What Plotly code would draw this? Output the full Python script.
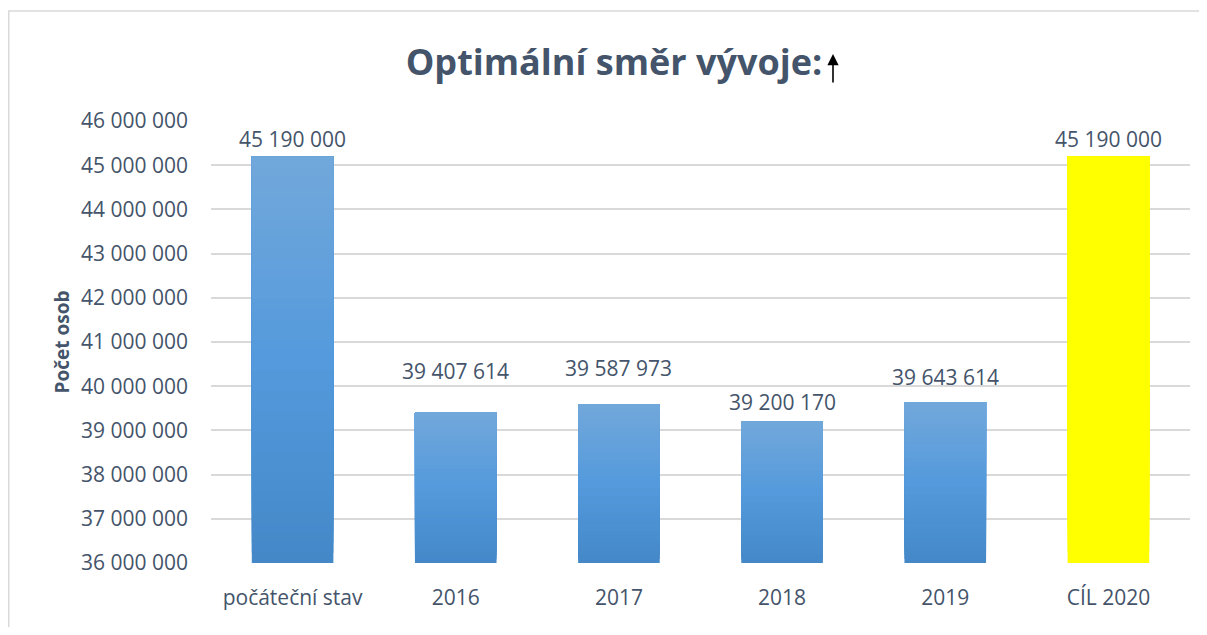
import plotly.graph_objects as go

categories = ["počáteční stav", "2016", "2017", "2018", "2019", "CÍL 2020"]
values = [45190000, 39407614, 39587973, 39200170, 39643614, 45190000]
y_ticks = list(range(36000000, 46000001, 1000000))

# styling
is_target = [False, False, False, False, False, True]
label_gap_px = [18, 41, 36, 20, 25, 18]   # Excel label offsets above bar tops
grad_stops = [(0.0, (68, 136, 200)), (0.5, (84, 154, 220)), (1.0, (114, 168, 219))]  # bottom -> top
N_BANDS = 40
Y0 = 36000000

# page has 8px body margin; figure placed at (8, 8)
W, H = 1191, 619
L, R, T, B = 203, 9, 113, 64
PW, PH = W - L - R, H - T - B


def grad_color(f):
    for (f0, c0), (f1, c1) in zip(grad_stops[:-1], grad_stops[1:]):
        if f0 <= f <= f1:
            t = (f - f0) / (f1 - f0)
            return "rgb(%d,%d,%d)" % tuple(round(a + (b - a) * t) for a, b in zip(c0, c1))
    return "rgb(%d,%d,%d)" % grad_stops[-1][1]


fig = go.Figure()
# gradient fill: layered bars, each from a band start up to the bar's value
for i in range(N_BANDS):
    f = (i + 0.5) / N_BANDS
    col = grad_color(f)
    bases = [Y0 + (v - Y0) * i / N_BANDS for v in values]
    heights = [v - b for v, b in zip(values, bases)]
    fig.add_trace(go.Bar(
        x=categories, y=heights, base=bases,
        marker=dict(color=["#FFFF00" if t else col for t in is_target], line=dict(width=0)),
        hoverinfo="skip", showlegend=False,
    ))

for idx, (v, g) in enumerate(zip(values, label_gap_px)):
    fig.add_annotation(
        x=idx, y=v, xref="x", yref="y",
        text=f"{v:,}".replace(",", " "),
        showarrow=False, yanchor="middle", yshift=g,
        font=dict(family="Open Sans", size=21, color="#44546A"),
    )

# arrow after the title
fig.add_annotation(
    x=(833 - 8 - L) / PW, y=(H - B - (54 - 8)) / PH, xref="paper", yref="paper",
    ax=0, ay=30, axref="pixel", ayref="pixel", text="",
    showarrow=True, arrowhead=2, arrowsize=1.4, arrowwidth=1.6, arrowcolor="black",
)

fig.update_layout(
    width=W, height=H,
    margin=dict(l=L, r=R, t=T, b=B),
    paper_bgcolor="white", plot_bgcolor="white",
    separators=", ",
    barmode="overlay",
    bargap=0.5,
    showlegend=False,
    title=dict(
        text="<b>Optimální směr vývoje:</b>",
        x=(614 - 8 - L) / PW, xanchor="center", xref="paper",
        y=1 - (62 - 8) / H, yanchor="middle",
        font=dict(family="Open Sans", size=36, color="#44546A"),
    ),
    font=dict(family="Open Sans", color="#44546A"),
)
fig.update_xaxes(
    type="category", categoryorder="array", categoryarray=categories,
    range=[-0.5, len(categories) - 0.5],
    showgrid=False, zeroline=False, showline=False,
    tickfont=dict(size=21, color="#44546A"),
    ticks="", ticklabelstandoff=20,
)
fig.update_yaxes(
    range=[36000000, 46000000],
    tickvals=y_ticks,
    tickformat=",d",
    showgrid=True, gridcolor="#D9D9D9", gridwidth=1.5,
    zeroline=False, showline=False,
    tickfont=dict(size=21, color="#44546A"),
    ticks="", ticklabelstandoff=22,
    title=dict(text="<b>Počet osob</b>", font=dict(size=19, color="#44546A"), standoff=6),
)
fig.add_shape(type="rect", xref="paper", yref="paper",
              x0=(0.75 - L) / PW, x1=1.2,
              y0=-0.5, y1=(H - 3 - B) / PH,
              line=dict(color="#D9D9D9", width=1.5), fillcolor="rgba(0,0,0,0)", layer="below")

fig.write_html("out.html")
